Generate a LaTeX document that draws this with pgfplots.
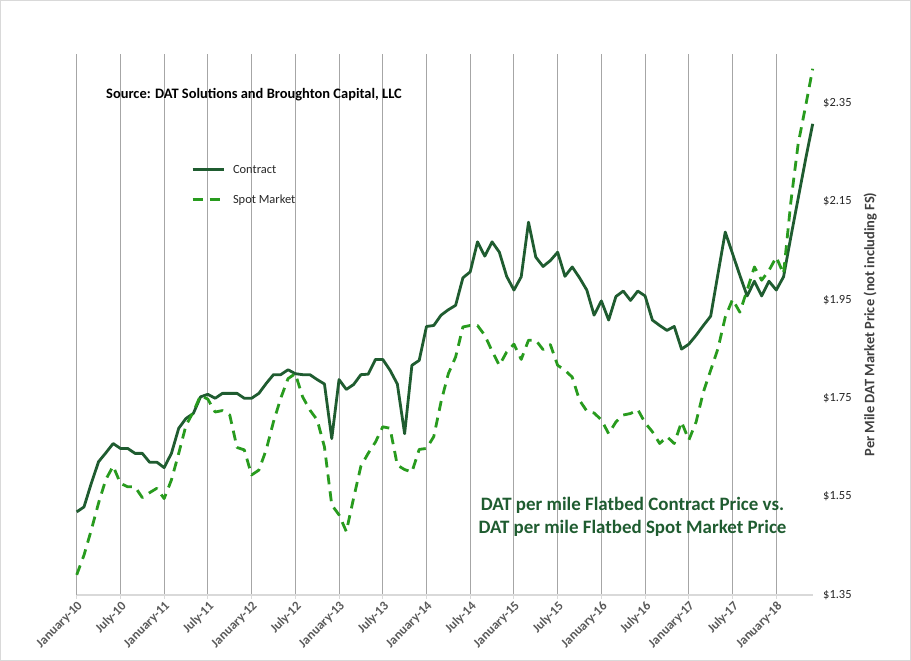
\documentclass[border=0pt]{standalone}
\usepackage{pgfplots}
\usepackage{pgfplotstable}
\pgfplotsset{compat=1.18}
\usepackage{fontspec}
\setmainfont{Carlito}
\definecolor{contractc}{RGB}{31,92,48}
\definecolor{spotc}{RGB}{40,155,30}
\definecolor{gridc}{RGB}{166,166,166}
\definecolor{axisc}{RGB}{217,217,217}
\definecolor{labc}{RGB}{89,89,89}
\definecolor{txtc}{RGB}{38,38,38}
\pgfplotstableread{
m c s
0 1.519 1.391
1 1.529 1.431
2 1.577 1.482
3 1.621 1.537
4 1.639 1.585
5 1.658 1.612
6 1.648 1.577
7 1.648 1.570
8 1.638 1.570
9 1.638 1.548
10 1.620 1.558
11 1.620 1.567
12 1.609 1.546
13 1.638 1.584
14 1.689 1.638
15 1.709 1.695
16 1.719 1.722
17 1.753 1.756
18 1.758 1.748
19 1.750 1.722
20 1.760 1.725
21 1.760 1.716
22 1.760 1.650
23 1.750 1.645
24 1.750 1.594
25 1.760 1.604
26 1.780 1.645
27 1.798 1.702
28 1.798 1.750
29 1.808 1.790
30 1.800 1.800
31 1.798 1.753
32 1.798 1.726
33 1.788 1.706
34 1.779 1.651
35 1.668 1.533
36 1.788 1.513
37 1.768 1.479
38 1.778 1.547
39 1.798 1.612
40 1.799 1.638
41 1.829 1.661
42 1.829 1.692
43 1.807 1.689
44 1.779 1.614
45 1.678 1.605
46 1.817 1.600
47 1.827 1.646
48 1.896 1.648
49 1.898 1.672
50 1.919 1.743
51 1.930 1.800
52 1.939 1.834
53 1.995 1.895
54 2.007 1.898
55 2.068 1.898
56 2.039 1.878
57 2.068 1.846
58 2.047 1.817
59 1.998 1.844
60 1.970 1.860
61 1.997 1.829
62 2.108 1.868
63 2.037 1.868
64 2.018 1.849
65 2.030 1.859
66 2.047 1.817
67 1.998 1.807
68 2.017 1.793
69 1.995 1.746
70 1.970 1.724
71 1.919 1.720
72 1.948 1.706
73 1.909 1.678
74 1.957 1.702
75 1.968 1.716
76 1.949 1.719
77 1.968 1.727
78 1.958 1.700
79 1.909 1.682
80 1.898 1.658
81 1.888 1.672
82 1.896 1.658
83 1.850 1.702
84 1.860 1.665
85 1.878 1.702
86 1.898 1.763
87 1.917 1.807
88 2.003 1.851
89 2.088 1.915
90 2.044 1.951
91 2.000 1.925
92 1.958 1.970
93 1.988 2.017
94 1.958 1.990
95 1.988 2.010
96 1.970 2.037
97 1.997 2.003
98 2.078 2.149
99 2.156 2.267
100 2.234 2.342
101 2.308 2.420
}\datatable
\begin{document}
\begin{tikzpicture}
\useasboundingbox (0,0) rectangle (911bp,661bp);
\draw[axisc,line width=1bp] (0.5bp,0.5bp) rectangle (910.5bp,660.5bp);
\begin{axis}[
  at={(76.7bp,66bp)}, anchor=south west,
  scale only axis, width=736bp, height=541bp,
  xmin=0, xmax=101, ymin=1.35, ymax=2.45,
  axis x line*=bottom, axis y line*=right,
  x axis line style={axisc, line width=1.2bp, -},
  y axis line style={draw=none},
  xtick={0,6,...,96},
  xticklabels={January-10,July-10,January-11,July-11,January-12,July-12,January-13,July-13,January-14,July-14,January-15,July-15,January-16,July-16,January-17,July-17,January-18},
  ytick={1.35,1.55,1.75,1.95,2.15,2.35},
  yticklabels={\$1.35,\$1.55,\$1.75,\$1.95,\$2.15,\$2.35},
  xmajorgrids, major grid style={gridc, line width=0.9bp},
  tick align=outside, major tick length=4bp,
  xtick style={axisc, line width=1bp},
  ytick style={draw=none},
  xticklabel style={rotate=45, anchor=north east, font=\fontsize{13}{15}\selectfont\bfseries, text=labc, inner sep=1bp},
  yticklabel style={font=\fontsize{12.5}{14}\selectfont, text=txtc, xshift=3bp},
  ylabel={Per Mile DAT Market Price (not including FS)},
  every axis y label/.style={at={(axis description cs:1.078,0.5)}, rotate=90, anchor=center, font=\fontsize{14.5}{16}\selectfont\bfseries, text={rgb,255:red,64;green,64;blue,64}},
  legend style={at={(axis description cs:0.1553,0.7950)}, anchor=north west, draw=none, fill=none, inner sep=0bp, font=\fontsize{12.5}{14}\selectfont, text=txtc, row sep=20bp, nodes={inner sep=0bp, anchor=west}, /tikz/every odd column/.append style={column sep=8bp}},
  legend image code/.code={\draw[#1] (0bp,0bp) -- (31bp,0bp);},
  legend cell align=left,
  clip=false,
]
\addplot[contractc, line width=2.8bp, line join=round] table[x=m,y=c]{\datatable};
\addplot[spotc, line width=2.8bp, line join=round, dash pattern=on 10bp off 7bp] table[x=m,y=s]{\datatable};
\legend{Contract, Spot Market}
\end{axis}
\node[anchor=west, inner sep=0bp, font=\fontsize{14.5}{16}\selectfont\bfseries, text=black] at (106bp,566bp) {Source: DAT Solutions and Broughton Capital, LLC};
\node[align=center, inner sep=0bp, font=\fontsize{19}{23}\selectfont\bfseries, text=contractc] at (632.5bp,144.5bp) {DAT per mile Flatbed Contract Price vs.\\DAT per mile Flatbed Spot Market Price};
\end{tikzpicture}
\end{document}
